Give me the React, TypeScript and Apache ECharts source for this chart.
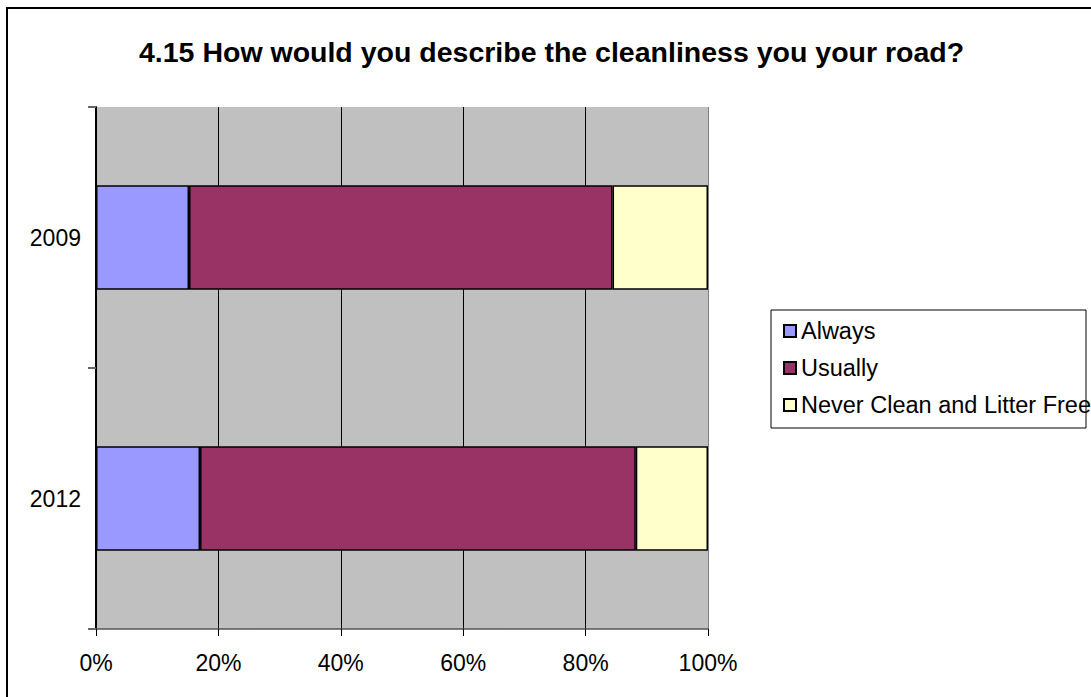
import React, { useEffect, useRef } from "react";
import * as echarts from "echarts";

const titleText = "4.15 How would you describe the cleanliness you your road?";
const categories = ["2009", "2012"];
const seriesNames = ["Always", "Usually", "Never Clean and Litter Free"];
const alwaysValues = [15.2, 17.0];
const usuallyValues = [69.2, 71.2];
const neverValues = [15.6, 11.8];
const seriesColors = ["#9999FF", "#993366", "#FFFFCC"];
const xTicks = [0, 20, 40, 60, 80, 100];

const FONT = "'Liberation Sans', Arial, sans-serif";

export default function App() {
  const ref = useRef<HTMLDivElement>(null);
  useEffect(() => {
    if (!ref.current) return;
    const chart = echarts.init(ref.current, null, { renderer: "svg" });
    const values = [alwaysValues, usuallyValues, neverValues];
    chart.setOption({
      animation: false,
      backgroundColor: "#FFFFFF",
      title: {
        text: titleText,
        left: 134,
        top: 32,
        textStyle: { fontFamily: FONT, fontSize: 28.5, fontWeight: "bold", color: "#000" },
      },
      legend: {
        orient: "vertical",
        left: 778,
        top: 314,
        itemWidth: 12,
        itemHeight: 12,
        itemGap: 13,
        icon: "rect",
        textStyle: { fontFamily: FONT, fontSize: 23.5, color: "#000" },
        data: seriesNames,
      },
      grid: {
        left: 96,
        right: 383,
        top: 107,
        bottom: 68,
        show: true,
        backgroundColor: "#C0C0C0",
        borderWidth: 0,
      },
      xAxis: {
        type: "value",
        min: 0,
        max: 100,
        interval: 20,
        axisLine: { show: true, lineStyle: { color: "#555", width: 1.5 } },
        axisTick: { show: true, length: 7, lineStyle: { color: "#000" } },
        axisLabel: {
          formatter: (v: number) => (xTicks.includes(v) ? v + "%" : ""),
          fontFamily: FONT,
          fontSize: 23,
          color: "#000",
          margin: 22,
        },
        splitLine: {
          show: true,
          lineStyle: { color: ["#000", "#000", "#000", "#000", "#000", "#808080"], width: 1 },
        },
      },
      yAxis: {
        type: "category",
        data: categories,
        inverse: true,
        axisLine: { show: true, lineStyle: { color: "#000", width: 2 } },
        axisTick: { show: true, length: 8, lineStyle: { color: "#666", width: 2 } },
        axisLabel: { fontFamily: FONT, fontSize: 23, color: "#000", margin: 15 },
        splitLine: { show: false },
      },
      series: seriesNames.map((name, i) => ({
        name,
        type: "bar",
        stack: "total",
        barWidth: "40%",
        data: values[i],
        itemStyle: { color: seriesColors[i], borderColor: "#000", borderWidth: 1.5 },
      })),
      graphic: [
        {
          type: "rect",
          shape: { x: 7, y: 8, width: 1200, height: 1000 },
          style: { fill: "none", stroke: "#000", lineWidth: 2 },
          silent: true,
        },
        {
          type: "rect",
          shape: { x: 771, y: 310, width: 315, height: 118 },
          style: { fill: "none", stroke: "#000", lineWidth: 1 },
          silent: true,
        },
      ],
    });
    return () => chart.dispose();
  }, []);
  return (
    <div
      ref={ref}
      style={{ position: "fixed", left: 0, top: 0, width: 1091, height: 697 }}
    />
  );
}
